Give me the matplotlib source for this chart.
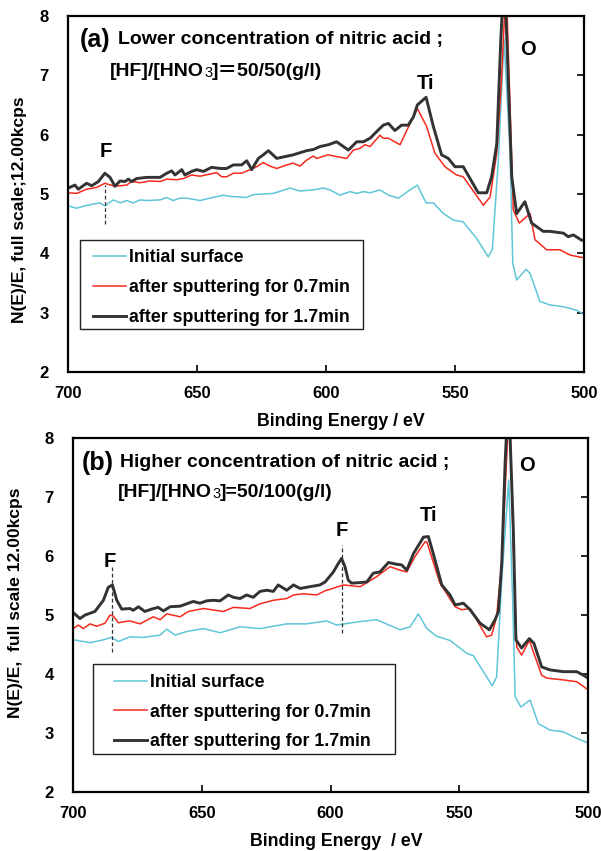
import numpy as np
import matplotlib
matplotlib.use("Agg")
from matplotlib import pyplot as plt
from matplotlib.patches import Rectangle

plt.rcParams['font.family'] = ['Liberation Sans', 'Noto Sans CJK JP', 'DejaVu Sans']
plt.rcParams['font.weight'] = 'bold'

# ---------- panel (a): [HF]/[HNO3] = 50/50 ----------
a_init_x = [699.9, 696.6, 693.4, 690.2, 687.6, 685.7, 682.4, 679.8, 677.3, 674.7, 672.1, 669.5,
            664.3, 661.8, 659.2, 656.6, 654.0, 648.8, 645.0, 639.8, 637.2, 630.8, 628.2, 620.4,
            614.0, 610.1, 604.9, 601.0, 598.5, 594.6, 590.7, 588.1, 585.5, 582.9, 579.1, 575.8,
            571.9, 567.4, 564.6, 561.2, 558.4, 554.5, 550.6, 546.8, 544.2, 541.6, 537.1, 535.5,
            533.2, 531.0, 528.7, 527.6, 526.1, 522.5, 520.9, 517.1, 513.2, 508.0, 502.8, 499.6]
a_init_y = [4.80, 4.76, 4.80, 4.83, 4.85, 4.80, 4.90, 4.85, 4.89, 4.85, 4.90, 4.89,
            4.90, 4.94, 4.89, 4.93, 4.93, 4.89, 4.93, 4.98, 4.96, 4.94, 4.99, 5.01,
            5.10, 5.05, 5.07, 5.10, 5.07, 4.98, 5.04, 5.01, 5.04, 5.02, 5.07, 4.98,
            4.93, 5.07, 5.15, 4.85, 4.85, 4.67, 4.56, 4.53, 4.39, 4.25, 3.94, 4.07,
            5.57, 7.61, 5.74, 3.83, 3.55, 3.73, 3.66, 3.19, 3.13, 3.10, 3.04, 2.96]

a_07_x = [699.9, 696.6, 692.8, 688.9, 685.7, 681.8, 677.3, 675.3, 672.1, 668.2, 664.3, 661.7,
          657.9, 655.3, 652.1, 648.8, 645.6, 642.4, 640.4, 638.5, 635.9, 632.7, 628.8, 626.9,
          624.3, 621.7, 619.1, 615.2, 612.7, 610.1, 607.5, 604.9, 603.6, 599.1, 595.9, 592.0,
          589.4, 586.8, 584.9, 582.9, 579.1, 577.8, 575.8, 571.3, 567.4, 564.6, 561.0, 557.8,
          553.9, 549.4, 546.8, 539.0, 536.4, 533.8, 531.9, 530.2, 527.4, 525.1, 520.9, 519.0,
          514.5, 509.3, 505.4, 499.6]
a_07_y = [5.02, 5.01, 5.08, 5.11, 5.18, 5.13, 5.15, 5.21, 5.19, 5.22, 5.21, 5.25,
          5.24, 5.26, 5.32, 5.30, 5.33, 5.36, 5.29, 5.29, 5.35, 5.35, 5.42, 5.46,
          5.53, 5.47, 5.43, 5.49, 5.52, 5.47, 5.57, 5.64, 5.60, 5.66, 5.63, 5.60,
          5.74, 5.77, 5.83, 5.80, 5.99, 5.94, 5.94, 5.83, 6.19, 6.44, 6.14, 5.69,
          5.46, 5.32, 5.29, 4.81, 4.95, 5.69, 6.98, 8.60, 4.73, 4.51, 4.67, 4.23,
          4.06, 4.06, 3.97, 3.92]

a_17_x = [699.9, 697.3, 696.0, 692.8, 690.8, 688.2, 685.7, 683.7, 681.8, 679.8, 677.9, 676.6,
          675.3, 673.4, 669.5, 664.3, 661.7, 659.8, 658.5, 655.9, 654.7, 652.1, 650.1, 647.5,
          644.3, 641.1, 638.5, 635.9, 632.7, 630.7, 628.8, 626.2, 624.3, 622.3, 619.1, 612.7,
          607.5, 604.9, 602.3, 599.1, 595.9, 591.3, 588.1, 585.5, 582.9, 580.4, 577.8, 575.8,
          573.3, 570.7, 568.1, 566.1, 564.6, 561.2, 558.4, 555.2, 552.6, 550.0, 546.8, 541.0,
          537.7, 535.8, 533.8, 532.3, 530.9, 528.0, 526.1, 522.9, 520.3, 515.8, 513.2, 508.0,
          506.1, 504.1, 500.9, 500.0]
a_17_y = [5.10, 5.15, 5.08, 5.18, 5.14, 5.21, 5.35, 5.28, 5.13, 5.22, 5.21, 5.25,
          5.21, 5.26, 5.28, 5.28, 5.35, 5.39, 5.32, 5.41, 5.32, 5.38, 5.41, 5.38,
          5.45, 5.43, 5.43, 5.49, 5.49, 5.56, 5.41, 5.60, 5.66, 5.73, 5.60, 5.66,
          5.73, 5.75, 5.80, 5.83, 5.88, 5.74, 5.88, 5.88, 5.94, 6.05, 6.16, 6.19,
          6.07, 6.16, 6.16, 6.30, 6.50, 6.63, 6.14, 5.66, 5.60, 5.46, 5.46, 5.02,
          5.02, 5.29, 5.85, 7.54, 8.80, 5.29, 4.67, 4.87, 4.51, 4.37, 4.37, 4.34,
          4.28, 4.31, 4.22, 4.22]

# ---------- panel (b): [HF]/[HNO3] = 50/100 ----------
b_init_x = [699.9, 693.4, 688.2, 685.0, 682.4, 677.9, 672.7, 666.2, 663.6, 660.4, 655.9, 649.4,
            642.9, 635.1, 627.4, 617.0, 609.3, 601.5, 597.6, 588.5, 582.1, 573.0, 569.1, 565.9,
            562.6, 558.8, 553.6, 547.1, 544.5, 537.2, 535.5, 533.5, 530.8, 529.3, 528.3, 526.1,
            522.5, 519.3, 514.8, 509.6, 504.4, 499.9]
b_init_y = [4.58, 4.53, 4.58, 4.62, 4.55, 4.63, 4.62, 4.66, 4.76, 4.66, 4.72, 4.77,
            4.70, 4.80, 4.77, 4.85, 4.85, 4.90, 4.83, 4.89, 4.92, 4.75, 4.80, 5.02,
            4.77, 4.64, 4.57, 4.35, 4.31, 3.80, 3.95, 5.59, 7.29, 5.31, 3.62, 3.44,
            3.56, 3.16, 3.05, 3.02, 2.91, 2.83]

b_07_x = [699.9, 697.9, 696.0, 693.4, 690.8, 687.6, 685.6, 684.3, 682.4, 677.9, 674.0, 668.8,
          666.2, 663.6, 658.4, 655.2, 649.4, 641.6, 637.7, 631.3, 627.4, 622.2, 617.0, 614.4,
          610.6, 605.4, 602.1, 595.0, 588.5, 582.1, 576.9, 573.0, 570.4, 567.2, 563.3, 562.6,
          557.5, 551.6, 549.1, 545.8, 539.4, 537.4, 535.5, 533.5, 530.6, 529.0, 527.7, 525.8,
          522.8, 518.0, 516.0, 509.6, 504.4, 499.9]
b_07_y = [4.77, 4.83, 4.77, 4.85, 4.81, 4.86, 5.00, 4.98, 4.87, 4.90, 4.85, 4.97,
          4.92, 5.02, 4.97, 5.06, 5.11, 5.06, 5.13, 5.11, 5.19, 5.25, 5.28, 5.34,
          5.36, 5.34, 5.41, 5.51, 5.48, 5.65, 5.82, 5.76, 5.73, 5.99, 6.24, 6.24,
          5.54, 5.14, 5.09, 5.11, 4.63, 4.66, 4.97, 5.88, 8.60, 6.16, 4.46, 4.32,
          4.57, 3.98, 3.93, 3.90, 3.87, 3.73]

b_17_x = [699.9, 697.3, 695.3, 691.5, 688.2, 686.3, 684.7, 683.0, 681.1, 677.9, 676.6, 674.6,
          672.1, 669.5, 666.9, 664.9, 662.3, 658.4, 653.3, 650.7, 648.1, 645.5, 642.9, 639.7,
          637.7, 635.1, 632.6, 630.0, 627.4, 624.8, 622.2, 620.3, 617.0, 614.4, 611.8, 609.3,
          606.7, 604.1, 602.1, 598.9, 597.3, 595.7, 594.4, 593.1, 591.8, 588.5, 585.9, 583.4,
          580.8, 577.5, 574.3, 572.4, 570.4, 567.8, 563.9, 562.0, 560.1, 556.8, 553.6, 551.6,
          548.4, 545.8, 541.9, 538.3, 536.1, 534.8, 533.5, 532.2, 530.9, 529.0, 528.0, 525.8,
          522.8, 521.0, 518.0, 514.8, 509.6, 504.4, 501.8, 500.0]
b_17_y = [5.04, 4.94, 5.00, 5.06, 5.25, 5.47, 5.51, 5.25, 5.10, 5.11, 5.08, 5.14,
          5.06, 5.10, 5.13, 5.07, 5.14, 5.15, 5.23, 5.20, 5.24, 5.25, 5.24, 5.34,
          5.30, 5.28, 5.34, 5.30, 5.40, 5.42, 5.40, 5.51, 5.42, 5.51, 5.45, 5.47,
          5.49, 5.51, 5.56, 5.73, 5.85, 5.96, 5.82, 5.59, 5.54, 5.55, 5.56, 5.71,
          5.73, 5.89, 5.86, 5.85, 5.76, 6.04, 6.32, 6.33, 6.04, 5.51, 5.34, 5.17,
          5.20, 5.09, 4.86, 4.75, 4.92, 5.06, 5.88, 7.57, 8.80, 6.44, 4.58, 4.44,
          4.60, 4.52, 4.12, 4.07, 4.04, 4.04, 3.98, 3.93]

legend_labels = ["Initial surface", "after sputtering for 0.7min", "after sputtering for 1.7min"]
colors = ['#5FC6D9', '#F52A1C', '#333333']
widths = [1.1, 1.1, 2.1]
x_ticks = [700, 650, 600, 550, 500]
y_ticks = [2, 3, 4, 5, 6, 7, 8]

fig = plt.figure(figsize=(6.01, 8.51), dpi=100)
ax1 = fig.add_axes([0.1131, 0.5629, 0.8586, 0.4183])
ax2 = fig.add_axes([0.1215, 0.0693, 0.8569, 0.4160])


def setup(ax, series, ylab, xlab, ylab_pos, xlab_pos, leg_anchor, box):
    for (xs, ys), c, w, lab in zip(series, colors, widths, legend_labels):
        ax.plot(xs, ys, color=c, lw=w, label=lab)
    ax.set_xlim(700, 500)
    ax.set_ylim(2, 8)
    ax.set_xticks(x_ticks)
    ax.set_yticks(y_ticks)
    for s in ax.spines.values():
        s.set_linewidth(1.6)
    ax.tick_params(axis='y', left=False, right=True, labelleft=True, direction='in',
                   length=5, width=1.2, pad=14, labelsize=12)
    ax.tick_params(axis='x', direction='in', length=5, width=1.2, pad=10, labelsize=12)
    for lab in ax.get_xticklabels() + ax.get_yticklabels():
        lab.set_fontweight('bold')
    ax.set_ylabel(ylab, fontsize=12.6, fontweight='bold')
    ax.yaxis.set_label_coords(*ylab_pos)
    ax.set_xlabel(xlab, fontsize=12.8, fontweight='bold')
    ax.xaxis.set_label_coords(*xlab_pos)
    ax.xaxis.label.set_va('top')
    # legend box drawn separately (wider side padding than matplotlib's frame)
    ax.add_patch(Rectangle(box[:2], box[2], box[3], transform=ax.transAxes,
                           facecolor='white', edgecolor='#222222', lw=1.0, zorder=4))
    leg = ax.legend(loc='upper left', bbox_to_anchor=leg_anchor, fontsize=12.8,
                    frameon=False, handlelength=1.85, handletextpad=0.17,
                    labelspacing=0.72, borderpad=0, borderaxespad=0)
    leg.set_zorder(5)
    for t in leg.get_texts():
        t.set_fontweight('bold')


setup(ax1, [(a_init_x, a_init_y), (a_07_x, a_07_y), (a_17_x, a_17_y)],
      "N(E)/E, full scale;12.00kcps", "Binding Energy / eV",
      (-0.079, 0.455), (0.529, -0.115), (0.0484, 0.345), (0.023, 0.121, 0.549, 0.250))
setup(ax2, [(b_init_x, b_init_y), (b_07_x, b_07_y), (b_17_x, b_17_y)],
      "N(E)/E,  full scale 12.00kcps", "Binding Energy  / eV",
      (-0.097, 0.534), (0.512, -0.116), (0.0796, 0.334), (0.039, 0.107, 0.586, 0.255))

# titles
ax1.text(695.3, 7.60, "(a)", fontsize=18, fontweight='bold', va='center', ha='left')
ax1.text(680.6, 7.60, "Lower concentration of nitric acid ;", fontsize=14,
         fontweight='bold', va='center', ha='left')
t1 = ax1.text(683.7, 6.99, "[HF]/[HNO", fontsize=14, fontweight='bold', va='baseline')
t2 = ax1.annotate("3", xy=(1, 0), xycoords=t1, fontsize=10.5, va='bottom', fontweight='normal')
ax1.annotate("]＝50/50(g/l)", xy=(1, 0), xycoords=t2, fontsize=14, va='bottom',
             fontweight='bold')

ax2.text(696.5, 7.58, "(b)", fontsize=18, fontweight='bold', va='center', ha='left')
ax2.text(681.7, 7.58, "Higher concentration of nitric acid ;", fontsize=14,
         fontweight='bold', va='center', ha='left')
t1 = ax2.text(682.5, 7.00, "[HF]/[HNO", fontsize=14, fontweight='bold', va='baseline')
t2 = ax2.annotate("3", xy=(1, 0), xycoords=t1, fontsize=10.5, va='bottom', fontweight='normal')
ax2.annotate("]=50/100(g/l)", xy=(1, 0), xycoords=t2, fontsize=14, va='bottom',
             fontweight='bold')

# peak labels
for ax, txt, px, py in [(ax1, "F", 685.3, 5.71), (ax1, "Ti", 561.6, 6.87), (ax1, "O", 521.7, 7.43),
                        (ax2, "F", 685.6, 5.90), (ax2, "F", 595.7, 6.44), (ax2, "Ti", 562.1, 6.69),
                        (ax2, "O", 523.7, 7.54)]:
    ax.text(px, py, txt, fontsize=14.5, fontweight='bold', ha='center', va='center')

ax1.vlines([685.5], 4.50, 5.15, colors='#333333', linestyles=(0, (3, 2)), lw=0.9)
ax2.vlines([685.0], 4.37, 5.82, colors='#333333', linestyles=(0, (3, 2)), lw=0.9)
ax2.vlines([595.7], 4.69, 6.19, colors='#333333', linestyles=(0, (3, 2)), lw=0.9)

plt.savefig('out.png', dpi=100)
plt.close()
